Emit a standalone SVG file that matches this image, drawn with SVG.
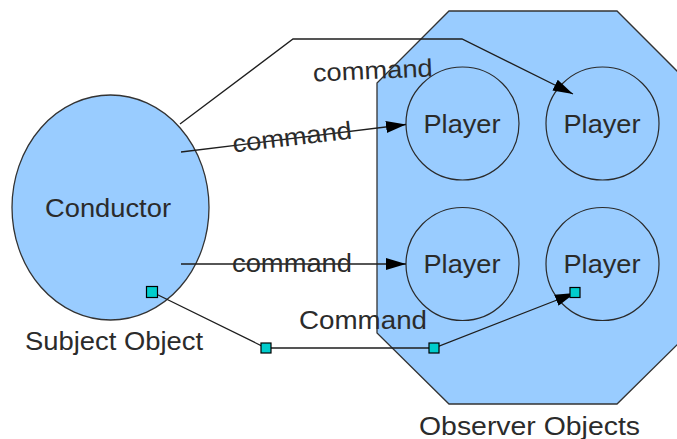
<svg xmlns="http://www.w3.org/2000/svg" width="677" height="439" viewBox="0 0 677 439">
  <defs>
    <marker id="arrow" markerUnits="userSpaceOnUse" markerWidth="20" markerHeight="12" refX="20" refY="6" orient="auto">
      <path d="M0,0 L20,6 L0,12 z" fill="#000"/>
    </marker>
    <style>
      .shape { fill: #99ccff; stroke: #333333; stroke-width: 1.3; }
      .ring { fill: none; stroke: #2a2a2a; stroke-width: 1.2; }
      .wire { fill: none; stroke: #1e1e1e; stroke-width: 1.3; }
      .lbl { font-family: "Liberation Sans", Arial, sans-serif; font-size: 25px; fill: #2b2b2b; }
      .grip { fill: #00cccc; stroke: #000; stroke-width: 1.2; }
    </style>
  </defs>

  <rect width="677" height="439" fill="#ffffff"/>

  <!-- observer group -->
  <g id="observers">
    <polygon class="shape" points="449,11 617,11 689,83 689,333 617,404 449,404 377,333 377,83"/>
    <text class="lbl" x="419" y="435" textLength="221" lengthAdjust="spacingAndGlyphs">Observer Objects</text>
  </g>

  <g id="player1">
    <circle class="ring" cx="462.5" cy="123.5" r="56.5"/>
    <text class="lbl" x="423.5" y="132.5" textLength="77" lengthAdjust="spacingAndGlyphs">Player</text>
  </g>
  <g id="player2">
    <circle class="ring" cx="602.5" cy="123.5" r="56.5"/>
    <text class="lbl" x="563.5" y="132.5" textLength="77" lengthAdjust="spacingAndGlyphs">Player</text>
  </g>
  <g id="player3">
    <circle class="ring" cx="462.5" cy="264" r="56.5"/>
    <text class="lbl" x="423.5" y="272.5" textLength="77" lengthAdjust="spacingAndGlyphs">Player</text>
  </g>
  <g id="player4">
    <circle class="ring" cx="602.5" cy="264" r="56.5"/>
    <text class="lbl" x="563.5" y="272.5" textLength="77" lengthAdjust="spacingAndGlyphs">Player</text>
  </g>

  <!-- subject -->
  <g id="conductor">
    <ellipse class="shape" cx="110.5" cy="207.5" rx="98.5" ry="112.5"/>
    <text class="lbl" x="45" y="216.5" textLength="126" lengthAdjust="spacingAndGlyphs">Conductor</text>
    <text class="lbl" x="25" y="349.5" textLength="178" lengthAdjust="spacingAndGlyphs">Subject Object</text>
  </g>

  <!-- connectors -->
  <g id="connectors">
    <polyline class="wire" points="180,124 293,39 462,39 573,94" marker-end="url(#arrow)"/>
    <line class="wire" x1="181" y1="152" x2="406" y2="124.5" marker-end="url(#arrow)"/>
    <line class="wire" x1="181" y1="264" x2="406" y2="264" marker-end="url(#arrow)"/>
    <polyline class="wire" points="152,292 266,348 434,348 575,293" marker-end="url(#arrow)"/>

    <text class="lbl" x="313" y="79" textLength="120" lengthAdjust="spacingAndGlyphs" transform="rotate(-2.5 373 77)">command</text>
    <text class="lbl" x="233" y="145.5" textLength="120" lengthAdjust="spacingAndGlyphs" transform="rotate(-6.6 293 145)">command</text>
    <text class="lbl" x="232" y="272" textLength="120" lengthAdjust="spacingAndGlyphs">command</text>
    <text class="lbl" x="299" y="328.5" textLength="128" lengthAdjust="spacingAndGlyphs">Command</text>

    <rect class="grip" x="146.5" y="286.5" width="11" height="11"/>
    <rect class="grip" x="261" y="343" width="10" height="10"/>
    <rect class="grip" x="429" y="343" width="10" height="10"/>
    <rect class="grip" x="570" y="287.5" width="10" height="10"/>
  </g>
</svg>
